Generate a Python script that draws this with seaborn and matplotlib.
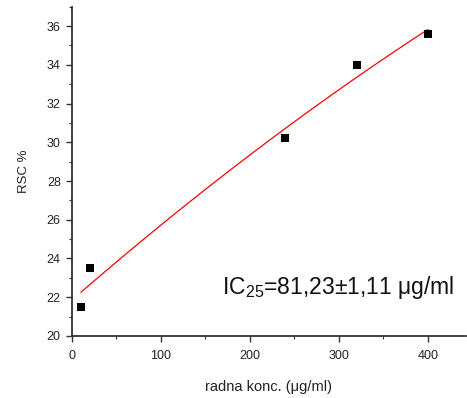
import numpy as np
import pandas as pd
import matplotlib
matplotlib.use("Agg")
import matplotlib.pyplot as plt
import seaborn as sns
from matplotlib.ticker import MultipleLocator

# data
konc = [10, 20, 240, 320, 400]
rsc = [21.5, 23.5, 30.2, 34.0, 35.6]
x_ticks = [0, 100, 200, 300, 400]
y_ticks = [20, 22, 24, 26, 28, 30, 32, 34, 36]
annot_text = "IC$_\\mathregular{25}$=81,23\u00b11,11 \u03bcg/ml"

sns.set_theme(style="ticks")
plt.rcParams['font.family'] = ['Liberation Sans', 'DejaVu Sans']
plt.rcParams['mathtext.fontset'] = 'custom'
plt.rcParams['mathtext.rm'] = 'Liberation Sans'

df = pd.DataFrame({"x": konc, "y": rsc})
coef = np.polyfit(df["x"], df["y"], 2)
xf = np.linspace(min(konc), max(konc), 200)
fit = pd.DataFrame({"x": xf, "y": np.polyval(coef, xf)})

fig = plt.figure(figsize=(4.67, 3.98), dpi=100)
ax = fig.add_axes([0.154, 0.156, 0.844, 0.827])

sns.lineplot(data=fit, x="x", y="y", ax=ax, color="#ff0000", linewidth=0.9)
sns.scatterplot(data=df, x="x", y="y", ax=ax, marker="s", s=32, color="black",
                edgecolor="black", linewidth=0, zorder=3)

ax.set_xlim(0, 443)
ax.set_ylim(20, 37)
ax.set_xticks(x_ticks)
ax.set_yticks(y_ticks)
ax.xaxis.set_minor_locator(MultipleLocator(50))
ax.yaxis.set_minor_locator(MultipleLocator(1))

for s in ["top", "right"]:
    ax.spines[s].set_visible(False)
for s in ["left", "bottom"]:
    ax.spines[s].set_color("#333333")
    ax.spines[s].set_linewidth(1.3)

ax.tick_params(axis="both", which="major", direction="out", length=4, width=1,
               color="#333333", labelsize=9, labelcolor="#222222")
ax.tick_params(axis="x", which="major", pad=6)
ax.tick_params(axis="y", which="major", pad=4)
ax.tick_params(axis="both", which="minor", direction="out", length=2, width=0.8,
               color="#333333")

ax.set_xlabel("radna konc. (\u03bcg/ml)", fontsize=10.5, color="#222222", labelpad=13)
ax.set_ylabel("RSC %", fontsize=9.5, color="#222222", labelpad=12)

ax.text(0.38, 0.1275, annot_text, transform=ax.transAxes, fontsize=16.5,
        color="#111111", ha="left", va="baseline")

fig.savefig("out.png", dpi=100)
